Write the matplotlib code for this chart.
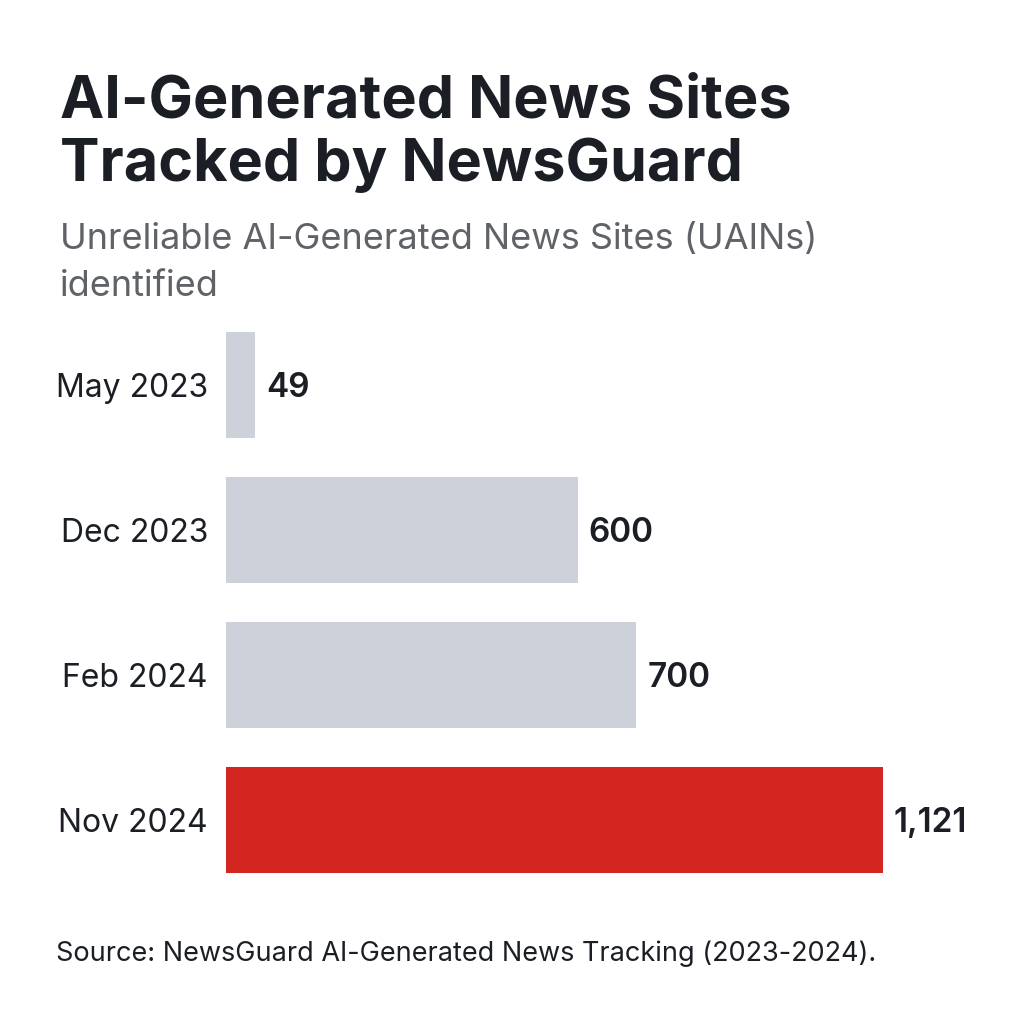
import matplotlib.pyplot as plt

plt.rcParams['font.family'] = ['Inter', 'DejaVu Sans']

# data
periods = ['May 2023', 'Dec 2023', 'Feb 2024', 'Nov 2024']
sites = [49, 600, 700, 1121]
value_labels = ['49', '600', '700', '1,121']

GRAY = '#cdd1d9'
RED = '#d42620'
DARK = '#1b1e24'

fig = plt.figure(figsize=(10.24, 10.24), dpi=100)
fig.patch.set_facecolor('white')

# bar area in pixels: left 226, top 312, bottom 892
ax = fig.add_axes([226 / 1024, 1 - 892.5 / 1024, 774 / 1024, 580 / 1024])
colors = [GRAY] * (len(sites) - 1) + [RED]
ypos = list(range(len(sites)))
ax.barh(ypos, sites, height=0.73, color=colors)
ax.set_ylim(len(sites) - 0.5, -0.5)
ax.set_xlim(0, 1321)

ax.set_yticks(ypos)
ax.set_yticklabels(periods, fontsize=23, color=DARK)
ax.tick_params(axis='y', length=0, pad=13)
ax.set_xticks([])
for s in ax.spines.values():
    s.set_visible(False)

for y, v, lab in zip(ypos, sites, value_labels):
    ax.annotate(lab, (v, y), xytext=(8, -2), textcoords='offset points',
                va='center', ha='left', fontsize=24, fontweight='semibold', color=DARK)

fig.text(60 / 1024, 1 - 74 / 1024, 'AI-Generated News Sites\nTracked by NewsGuard',
         fontsize=42.7, fontweight='bold', color=DARK, va='top', ha='left',
         linespacing=1.2)
fig.text(60 / 1024, 1 - 223 / 1024, 'Unreliable AI-Generated News Sites (UAINs)\nidentified',
         fontsize=26, color='#5f6368', va='top', ha='left', linespacing=1.55)
fig.text(56 / 1024, 1 - 954 / 1024, 'Source: NewsGuard AI-Generated News Tracking (2023-2024).',
         fontsize=19.5, color=DARK, va='center', ha='left')

fig.savefig('out.png', dpi=100, facecolor='white')
